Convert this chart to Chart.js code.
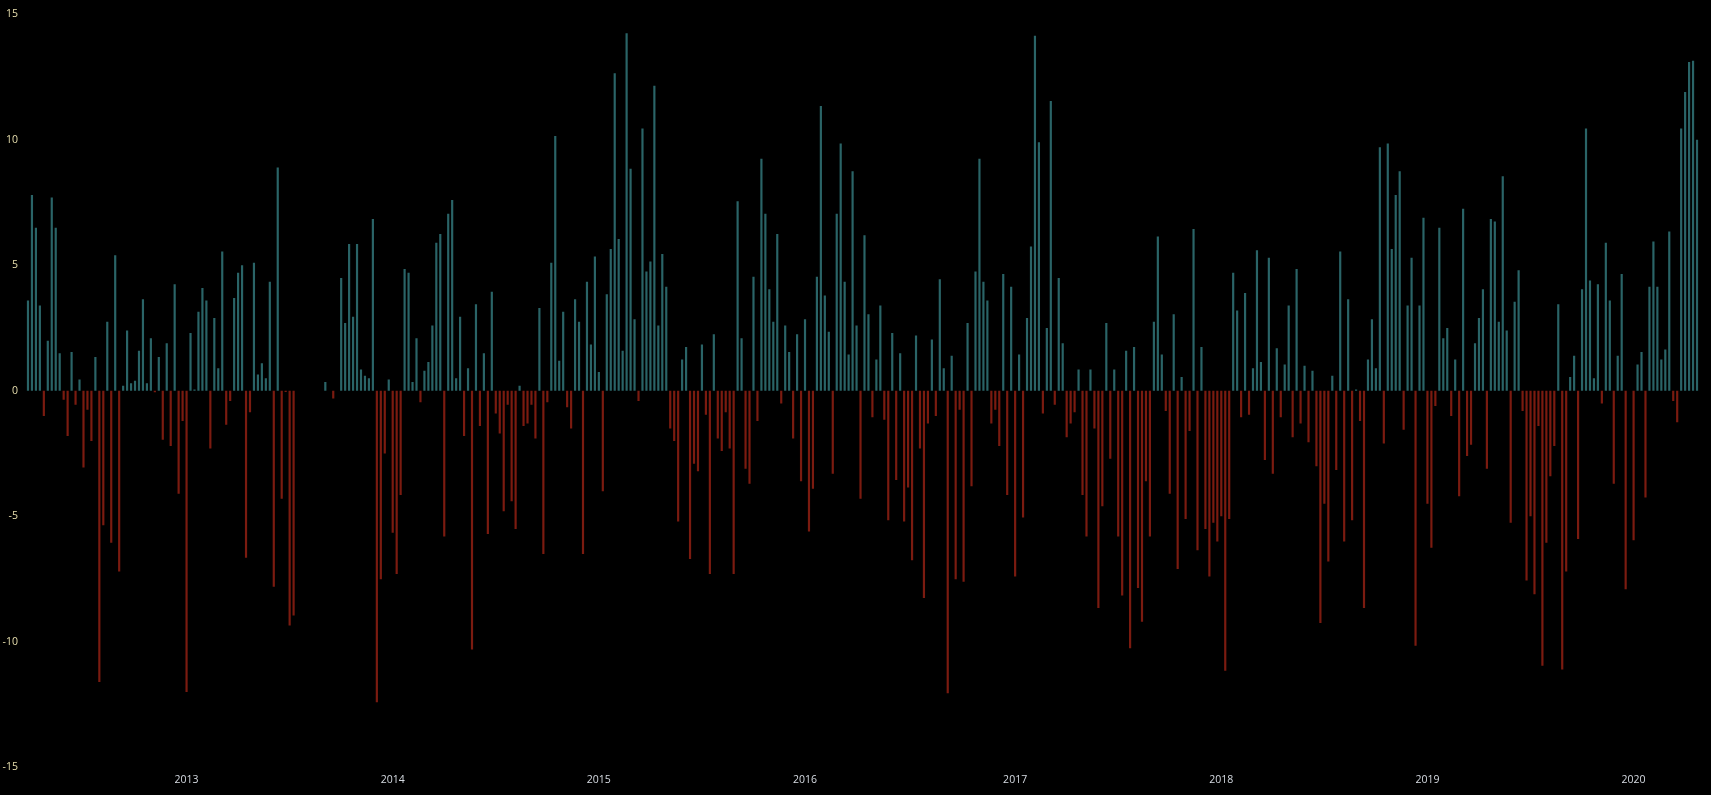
<!DOCTYPE html>
<html>
<head>
<meta charset="utf-8">
<title>Weekly change</title>
<script src="https://cdn.jsdelivr.net/npm/chart.js@4/dist/chart.umd.min.js"></script>
<style>
  html, body { margin: 0; padding: 0; background: #fff; }
  #wrap { position: relative; width: 1711px; height: 795px; background: #000; }
</style>
</head>
<body>
<div id="wrap"><canvas id="weeklyChart"></canvas></div>
<script>
// one bar per week, first week starts here
const firstWeek = '2012-03-27';
const yearLabels = ['2013', '2014', '2015', '2016', '2017', '2018', '2019', '2020'];

const values2012 = [3.6, 7.8, 6.5, 3.4, -1.0, 2.0, 7.7, 6.5, 1.5, -0.35,
    -1.8, 1.55, -0.55, 0.45, -3.05, -0.75, -2.0, 1.35, -11.6, -5.35,
    2.75, -6.05, 5.4, -7.2, 0.2, 2.4, 0.3, 0.4, 1.6, 3.65,
    0.3, 2.1, -0.06, 1.35, -1.95, 1.9, -2.2, 4.25, -4.1, -1.2];
const values2013 = [-12.0, 2.3, 0.05, 3.15, 4.1, 3.6, -2.3, 2.9, 0.9, 5.55,
    -1.35, -0.4, 3.7, 4.7, 5.0, -6.65, -0.85, 5.1, 0.65, 1.1,
    0.5, 4.35, -7.8, 8.9, -4.3, -0.05, -9.35, -8.95, null, null,
    null, null, null, null, null, 0.35, null, -0.3, null, 4.5,
    2.7, 5.85, 2.95, 5.85, 0.85, 0.6, 0.5, 6.85, -12.4, -7.5,
    -2.5, 0.45, -5.65];
const values2014 = [-7.3, -4.15, 4.85, 4.7, 0.35, 2.1, -0.45, 0.8, 1.15, 2.6,
    5.9, 6.25, -5.8, 7.05, 7.6, 0.5, 2.95, -1.8, 0.9, -10.3,
    3.45, -1.4, 1.5, -5.7, 3.95, -0.9, -1.7, -4.8, -0.55, -4.4,
    -5.5, 0.2, -1.4, -1.3, -0.55, -1.9, 3.3, -6.5, -0.45, 5.1,
    10.15, 1.2, 3.15, -0.65, -1.5, 3.65, 2.75, -6.5, 4.35, 1.85,
    5.35, 0.75];
const values2015 = [-4.0, 3.85, 5.65, 12.65, 6.05, 1.6, 14.25, 8.85, 2.85, -0.4,
    10.45, 4.75, 5.15, 12.15, 2.6, 5.45, 4.15, -1.5, -2.0, -5.2,
    1.25, 1.75, -6.7, -2.9, -3.2, 1.85, -0.95, -7.3, 2.25, -1.9,
    -2.4, -0.85, -2.3, -7.3, 7.55, 2.1, -3.1, -3.7, 4.55, -1.2,
    9.25, 7.05, 4.05, 2.75, 6.25, -0.5, 2.6, 1.55, -1.9, 2.25,
    -3.6, 2.85];
const values2016 = [-5.6, -3.9, 4.55, 11.35, 3.8, 2.35, -3.3, 7.05, 9.85, 4.35,
    1.45, 8.75, 2.6, -4.3, 6.2, 3.05, -1.05, 1.25, 3.4, -1.15,
    -5.15, 2.3, -3.55, 1.5, -5.2, -3.85, -6.75, 2.2, -2.3, -8.25,
    -1.3, 2.05, -1.0, 4.45, 0.9, -12.05, 1.4, -7.5, -0.75, -7.6,
    2.7, -3.8, 4.75, 9.25, 4.35, 3.6, -1.3, -0.75, -2.2, 4.65,
    -4.15, 4.15];
const values2017 = [-7.4, 1.45, -5.05, 2.9, 5.75, 14.15, 9.9, -0.9, 2.5, 11.55,
    -0.55, 4.5, 1.9, -1.85, -1.3, -0.85, 0.85, -4.15, -5.8, 0.85,
    -1.5, -8.65, -4.6, 2.7, -2.7, 0.85, -5.8, -8.15, 1.6, -10.25,
    1.75, -7.85, -9.2, -3.6, -5.8, 2.75, 6.15, 1.45, -0.8, -4.1,
    3.05, -7.1, 0.55, -5.1, -1.6, 6.45, -6.35, 1.75, -5.5, -7.4,
    -5.25, -6.0];
const values2018 = [-5.0, -11.15, -5.1, 4.7, 3.2, -1.05, 3.9, -0.95, 0.9, 5.6,
    1.15, -2.75, 5.3, -3.3, 1.7, -1.05, 1.05, 3.4, -1.85, 4.85,
    -1.3, 1.0, -2.05, 0.8, -3.0, -9.25, -4.5, -6.8, 0.6, -3.15,
    5.55, -6.0, 3.65, -5.15, 0.05, -1.2, -8.65, 1.25, 2.85, 0.9,
    9.7, -2.1, 9.85, 5.65, 7.8, 8.75, -1.55, 3.4, 5.3, -10.15,
    3.4, 6.9];
const values2019 = [-4.5, -6.25, -0.6, 6.5, 2.1, 2.5, -1.0, 1.25, -4.2, 7.25,
    -2.6, -2.15, 1.9, 2.9, 4.05, -3.1, 6.85, 6.75, 2.75, 8.55,
    2.4, -5.25, 3.55, 4.8, -0.8, -7.55, -5.0, -8.1, -1.4, -10.95,
    -6.05, -3.4, -2.2, 3.45, -11.1, -7.2, 0.55, 1.4, -5.9, 4.05,
    10.45, 4.4, 0.5, 4.25, -0.5, 5.9, 3.6, -3.7, 1.4, 4.65,
    -7.9, null, -5.95];
const values2020 = [1.05, 1.55, -4.25, 4.15, 5.95, 4.15, 1.25, 1.65, 6.35, -0.4,
    -1.25, 10.45, 11.9, 13.1, 13.15, 10.0];

const values = [].concat(values2012, values2013, values2014, values2015,
    values2016, values2017, values2018, values2019, values2020);

const upColor = '#2a6467';
const downColor = '#7b1b10';
const yTickColor = '#e8dfae';
const xTickColor = '#d6dbe2';

const WEEK = 7 * 86400000;
const start = Date.parse(firstWeek + 'T00:00:00Z');
const weeks = values.map((v, i) => new Date(start + i * WEEK).toISOString().slice(0, 10));
// the year label goes under the week nearest to 1 January
const yearTicks = yearLabels.map(y => Math.round((Date.UTC(Number(y), 0, 1) - start) / WEEK));

const ctx = document.getElementById('weeklyChart').getContext('2d');
const weeklyChart = new Chart(ctx, {
    type: 'bar',
    data: {
        labels: weeks,
        datasets: [{
            label: 'Weekly change',
            data: values,
            backgroundColor: c => (c.raw >= 0 ? upColor : downColor),
            borderWidth: 0,
            barPercentage: 0.55,
            categoryPercentage: 1
        }]
    },
    options: {
        responsive: true,
        maintainAspectRatio: false,
        animation: false,
        layout: {
            padding: { top: 5, right: 12, bottom: 3, left: 0 }
        },
        plugins: {
            legend: { display: false },
            tooltip: { enabled: true }
        },
        scales: {
            x: {
                grid: { display: false, drawTicks: false },
                border: { display: false },
                afterBuildTicks: axis => {
                    axis.ticks = yearTicks.map(v => ({ value: v }));
                },
                ticks: {
                    autoSkip: false,
                    maxRotation: 0,
                    padding: 6,
                    color: xTickColor,
                    font: { family: 'Open Sans', size: 10.5 },
                    callback: value => {
                        const k = yearTicks.indexOf(value);
                        return k >= 0 ? yearLabels[k] : '';
                    }
                }
            },
            y: {
                min: -15,
                max: 15,
                grid: { display: false, drawTicks: false },
                border: { display: false },
                afterFit: axis => { axis.width = 26; },
                ticks: {
                    stepSize: 5,
                    padding: 8,
                    color: yTickColor,
                    font: { family: 'Open Sans', size: 10.5 }
                }
            }
        }
    }
});
</script>
</body>
</html>
